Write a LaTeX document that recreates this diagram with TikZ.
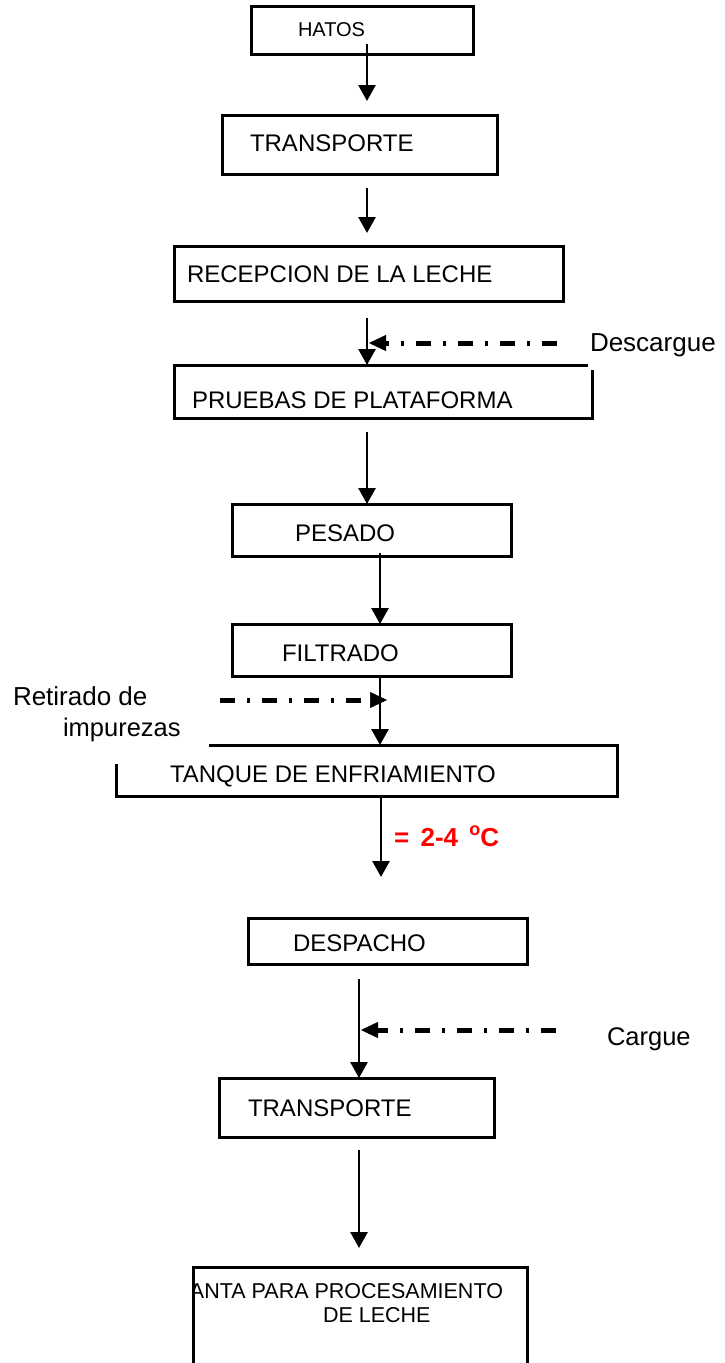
\documentclass[tikz,border=0pt]{standalone}
\usepackage{fontspec}
\setmainfont{Liberation Sans}
\usetikzlibrary{arrows.meta}
\begin{document}
\begin{tikzpicture}[x=1pt,y=-1pt,
  box/.style={draw, line width=3pt, rectangle, inner sep=0pt, outer sep=0pt},
  frame/.style={rectangle, inner sep=0pt, outer sep=0pt},
  edge/.style={line width=3pt},
  txt/.style={anchor=base west, inner sep=0pt, outer sep=0pt, font=\fontsize{24}{24}\selectfont},
  lbl/.style={anchor=base west, inner sep=0pt, outer sep=0pt, font=\fontsize{25.5}{25.5}\selectfont},
  arr/.style={line width=2.8pt, -{Triangle[length=16pt,width=17pt]}},
  dasharr/.style={line width=5pt, dash pattern=on 15pt off 12pt on 3pt off 12pt,
     -{Triangle[length=17pt,width=16pt,line width=0.5pt]}}
]
\useasboundingbox (0,0) rectangle (724,1363);
\fill[white] (0,0) rectangle (724,1363);
\clip (0,0) rectangle (724,1363);

% ---- boxes ----
\node[box, minimum width=222pt, minimum height=48pt] (hatos) at (362,30) {};
\node[box, minimum width=275pt, minimum height=59pt] (transp1) at (359.5,144.5) {};
\node[box, minimum width=389pt, minimum height=55pt] (recep) at (368.5,273.5) {};
\node[frame, minimum width=416pt, minimum height=53pt] (pruebas) at (382,391.5) {};
\draw[edge] ([xshift=-2pt]pruebas.north east) -- (pruebas.north west) -- (pruebas.south west)
   -- ([xshift=2pt]pruebas.south east) -- ([xshift=2pt,yshift=-5pt]pruebas.north east);
\node[box, minimum width=279pt, minimum height=52pt] (pesado) at (371.5,530) {};
\node[box, minimum width=279pt, minimum height=52pt] (filtrado) at (371.5,650) {};
\node[frame, minimum width=501pt, minimum height=51pt] (tanque) at (366.5,770.5) {};
\draw[edge] ([xshift=93pt]tanque.north west) -- (tanque.north east) -- (tanque.south east)
   -- (tanque.south west) -- ([yshift=-19pt]tanque.north west);
\node[box, minimum width=279pt, minimum height=46pt] (despacho) at (387.5,941) {};
\node[box, minimum width=275pt, minimum height=59pt] (transp2) at (356.5,1107.5) {};
\node[box, minimum width=334pt, minimum height=140pt] (planta) at (360,1337) {};

% ---- texts ----
\node[txt, font=\fontsize{20}{20}\selectfont] (thatos) at (298,36) {HATOS};
\node[txt] (ttransp1) at (250,151) {TRANSPORTE};
\node[txt] (trecep) at (187,282) {RECEPCION DE LA LECHE};
\node[txt] (tpruebas) at (192,408) {PRUEBAS DE PLATAFORMA};
\node[txt] (tpesado) at (295,541) {PESADO};
\node[txt] (tfiltrado) at (282,661) {FILTRADO};
\node[txt] (ttanque) at (170,782) {TANQUE DE ENFRIAMIENTO};
\node[txt] (tdespacho) at (293,951) {DESPACHO};
\node[txt] (ttransp2) at (248,1116) {TRANSPORTE};
\begin{scope}
  \clip (planta.south west) rectangle (planta.north east);
  \node[txt, anchor=base east, font=\fontsize{21.5}{21.5}\selectfont] (tplanta) at (503,1298) {PLANTA PARA PROCESAMIENTO};
\end{scope}
\node[txt, font=\fontsize{21.5}{21.5}\selectfont] (tleche) at (323,1322) {DE LECHE};

\node[lbl, font=\fontsize{26}{26}\selectfont] (ldescargue) at (590,351) {Descargue};
\node[lbl, font=\fontsize{26}{26}\selectfont] (lretirado) at (13,705) {Retirado de};
\node[lbl] (limpurezas) at (63,736) {impurezas};
\node[lbl] (lcargue) at (607,1045) {Cargue};
\node[anchor=base west, inner sep=0pt, text=red, font=\bfseries\fontsize{26}{26}\selectfont] (ltemp) at (394,846)
  {= \kern4pt 2-4 \kern4pt\raisebox{11pt}{\fontsize{18}{18}\selectfont o}C};

% ---- connector coordinates ----
\coordinate (a1s) at (367,44);   \coordinate (a1e) at (367,101);
\coordinate (a2s) at (367,188);  \coordinate (a2e) at (367,233);
\coordinate (a3s) at (367,318);
\coordinate (a4s) at (367,432);
\coordinate (a5s) at (380,553);
\coordinate (a6s) at (380,675);
\coordinate (a7s) at (381,796);  \coordinate (a7e) at (381,877);
\coordinate (a8s) at (359,979);
\coordinate (a9s) at (359,1150); \coordinate (a9e) at (359,1248);
\coordinate (d1s) at (557,343);  \coordinate (d1e) at (369,343);
\coordinate (d2s) at (220,700);  \coordinate (d2e) at (387,700);
\coordinate (d3s) at (556,1030); \coordinate (d3e) at (361,1030);

% ---- arrows ----
\draw[arr] (a1s) -- (a1e);
\draw[arr] (a2s) -- (a2e);
\draw[arr] (a3s) -- (a3s |- pruebas.north);
\draw[arr] (a4s) -- (a4s |- pesado.north);
\draw[arr] (a5s) -- (a5s |- filtrado.north);
\draw[arr] (a6s) -- (a6s |- tanque.north);
\draw[arr] (a7s) -- (a7e);
\draw[arr] (a8s) -- (a8s |- transp2.north);
\draw[arr] (a9s) -- (a9e);

\draw[dasharr] (d1s) -- (d1e);
\draw[dasharr] (d2s) -- (d2e);
\draw[dasharr] (d3s) -- (d3e);
\end{tikzpicture}
\end{document}
